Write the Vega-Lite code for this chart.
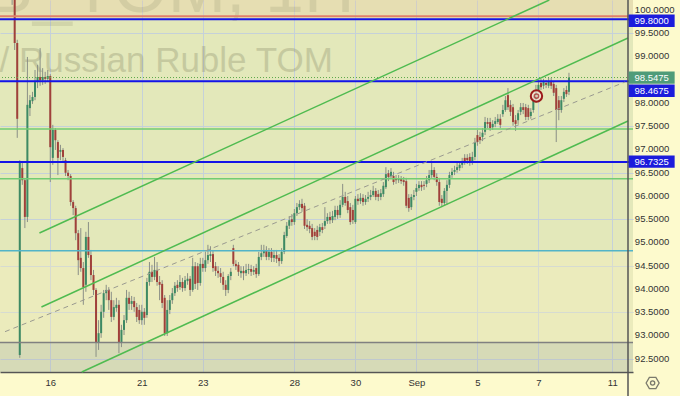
{
  "$schema": "https://vega.github.io/schema/vega-lite/v6.json",
  "width": 633,
  "height": 372,
  "autosize": "none",
  "padding": {"left": 0, "top": 0, "right": 47, "bottom": 24},
  "background": "#fdfacd",
  "config": {
    "view": {"fill": "#e3e8ba", "stroke": null},
    "axis": {"labelFont": "Liberation Sans Narrow, Liberation Sans, Arial", "labelFontSize": 9.5, "labelColor": "#333333"}
  },
  "datasets": {
    "candles": [
      {"t":0.583,"o":101.51,"h":101.72,"l":101.08,"c":101.29},
      {"t":0.667,"o":101.29,"h":101.51,"l":100.65,"c":100.86},
      {"t":0.75,"o":100.86,"h":100.97,"l":100.11,"c":100.32},
      {"t":0.833,"o":100.32,"h":100.39,"l":99.14,"c":99.29},
      {"t":0.917,"o":99.29,"h":99.36,"l":97.25,"c":97.66},
      {"t":1,"o":92.58,"h":96.77,"l":92.52,"c":96.71},
      {"t":1.083,"o":96.6,"h":96.73,"l":96.24,"c":96.34},
      {"t":1.167,"o":96.34,"h":96.39,"l":95.31,"c":95.55},
      {"t":1.25,"o":95.55,"h":98.99,"l":95.44,"c":97.96},
      {"t":1.333,"o":97.89,"h":98.17,"l":97.72,"c":98.06},
      {"t":1.417,"o":98.04,"h":98.24,"l":97.98,"c":98.13},
      {"t":1.5,"o":98.13,"h":98.71,"l":98.06,"c":98.45},
      {"t":1.583,"o":98.45,"h":98.82,"l":98.32,"c":98.56},
      {"t":1.667,"o":98.56,"h":99.18,"l":98.37,"c":98.49},
      {"t":1.75,"o":98.49,"h":98.75,"l":98.39,"c":98.56},
      {"t":1.833,"o":98.56,"h":98.67,"l":98.41,"c":98.52},
      {"t":1.917,"o":98.52,"h":98.71,"l":98.45,"c":98.58},
      {"t":2,"o":98.58,"h":98.62,"l":96.3,"c":97.05},
      {"t":2.083,"o":96.82,"h":97.53,"l":96.67,"c":97.42},
      {"t":2.167,"o":97.42,"h":97.46,"l":96.99,"c":97.2},
      {"t":2.25,"o":97.16,"h":97.2,"l":96.45,"c":96.82},
      {"t":2.333,"o":96.95,"h":97.1,"l":96.77,"c":96.99},
      {"t":2.417,"o":96.99,"h":97.03,"l":96.71,"c":96.84},
      {"t":2.5,"o":96.77,"h":96.82,"l":96.43,"c":96.5},
      {"t":2.583,"o":96.5,"h":96.56,"l":96.34,"c":96.43},
      {"t":2.667,"o":96.43,"h":96.47,"l":95.79,"c":95.87},
      {"t":2.75,"o":95.87,"h":95.91,"l":95.59,"c":95.74},
      {"t":2.833,"o":95.74,"h":95.79,"l":95.05,"c":95.2},
      {"t":2.917,"o":95.2,"h":95.27,"l":94.3,"c":94.62},
      {"t":3,"o":94.67,"h":95.31,"l":94.37,"c":94.45},
      {"t":3.083,"o":94.45,"h":94.58,"l":93.66,"c":94.04},
      {"t":3.167,"o":94.09,"h":95.23,"l":93.94,"c":95.12},
      {"t":3.25,"o":95.12,"h":95.44,"l":94.67,"c":94.73},
      {"t":3.333,"o":94.73,"h":94.84,"l":94.19,"c":94.3},
      {"t":3.417,"o":94.3,"h":94.41,"l":93.87,"c":93.98},
      {"t":3.5,"o":93.98,"h":94.02,"l":92.54,"c":92.84},
      {"t":3.583,"o":92.84,"h":93.33,"l":92.69,"c":93.05},
      {"t":3.667,"o":93.05,"h":93.66,"l":92.95,"c":93.51},
      {"t":3.75,"o":93.51,"h":93.98,"l":93.38,"c":93.91},
      {"t":3.833,"o":93.91,"h":94.09,"l":93.76,"c":93.98},
      {"t":3.917,"o":93.98,"h":94.04,"l":93.55,"c":93.76},
      {"t":4,"o":93.76,"h":93.94,"l":93.29,"c":93.4},
      {"t":4.083,"o":93.4,"h":93.76,"l":93.33,"c":93.61},
      {"t":4.167,"o":93.59,"h":93.81,"l":93.51,"c":93.66},
      {"t":4.25,"o":93.66,"h":93.76,"l":92.62,"c":92.84},
      {"t":4.333,"o":92.84,"h":93.23,"l":92.75,"c":93.12},
      {"t":4.417,"o":93.12,"h":93.44,"l":93.01,"c":93.33},
      {"t":4.5,"o":93.33,"h":93.98,"l":93.27,"c":93.81},
      {"t":4.583,"o":93.81,"h":93.94,"l":93.55,"c":93.68},
      {"t":4.667,"o":93.68,"h":93.85,"l":93.55,"c":93.74},
      {"t":4.75,"o":93.74,"h":93.83,"l":93.51,"c":93.61},
      {"t":4.833,"o":93.61,"h":93.7,"l":93.29,"c":93.4},
      {"t":4.917,"o":93.55,"h":93.66,"l":93.25,"c":93.33},
      {"t":5,"o":93.33,"h":93.66,"l":93.23,"c":93.51},
      {"t":5.083,"o":93.51,"h":93.59,"l":93.23,"c":93.38},
      {"t":5.167,"o":93.44,"h":94.24,"l":93.38,"c":94.15},
      {"t":5.25,"o":94.15,"h":94.58,"l":94.07,"c":94.37},
      {"t":5.333,"o":94.37,"h":94.52,"l":94.15,"c":94.26},
      {"t":5.417,"o":94.26,"h":94.69,"l":94.19,"c":94.41},
      {"t":5.5,"o":94.41,"h":94.58,"l":94.07,"c":94.15},
      {"t":5.583,"o":94.15,"h":94.28,"l":93.76,"c":94.09},
      {"t":5.667,"o":94.11,"h":94.19,"l":93.59,"c":93.7},
      {"t":5.75,"o":93.81,"h":93.87,"l":92.99,"c":93.05},
      {"t":5.833,"o":93.05,"h":93.76,"l":92.99,"c":93.55},
      {"t":5.917,"o":93.55,"h":93.87,"l":93.46,"c":93.76},
      {"t":6,"o":93.76,"h":94.02,"l":93.68,"c":93.91},
      {"t":6.083,"o":93.91,"h":94.15,"l":93.85,"c":94.07},
      {"t":6.167,"o":94.09,"h":94.19,"l":93.94,"c":94.02},
      {"t":6.25,"o":94.04,"h":94.3,"l":93.98,"c":94.15},
      {"t":6.333,"o":94.15,"h":94.24,"l":93.94,"c":94.02},
      {"t":6.417,"o":94.02,"h":94.28,"l":93.96,"c":94.19},
      {"t":6.5,"o":94.17,"h":94.34,"l":94.09,"c":94.22},
      {"t":6.583,"o":94.22,"h":94.28,"l":93.85,"c":93.98},
      {"t":6.667,"o":93.98,"h":94.67,"l":93.94,"c":94.49},
      {"t":6.75,"o":94.49,"h":94.58,"l":94.0,"c":94.11},
      {"t":6.833,"o":94.49,"h":94.56,"l":93.98,"c":94.13},
      {"t":6.917,"o":94.13,"h":94.67,"l":94.07,"c":94.54},
      {"t":7,"o":94.54,"h":94.67,"l":94.37,"c":94.45},
      {"t":7.083,"o":94.45,"h":94.8,"l":94.37,"c":94.62},
      {"t":7.167,"o":94.62,"h":94.95,"l":94.54,"c":94.73},
      {"t":7.25,"o":94.71,"h":94.92,"l":94.58,"c":94.75},
      {"t":7.333,"o":94.75,"h":94.84,"l":94.37,"c":94.45},
      {"t":7.417,"o":94.49,"h":94.58,"l":94.28,"c":94.39},
      {"t":7.5,"o":94.39,"h":94.49,"l":94.24,"c":94.34},
      {"t":7.583,"o":94.34,"h":94.45,"l":94.13,"c":94.26},
      {"t":7.667,"o":94.26,"h":94.37,"l":93.98,"c":94.09},
      {"t":7.75,"o":94.09,"h":94.19,"l":93.85,"c":93.98},
      {"t":7.833,"o":93.98,"h":94.32,"l":93.91,"c":94.28},
      {"t":7.917,"o":94.28,"h":94.45,"l":94.19,"c":94.37},
      {"t":8,"o":94.88,"h":94.95,"l":94.49,"c":94.54},
      {"t":8.083,"o":94.54,"h":94.62,"l":94.41,"c":94.49},
      {"t":8.167,"o":94.52,"h":94.58,"l":94.28,"c":94.37},
      {"t":8.25,"o":94.34,"h":94.49,"l":94.24,"c":94.39},
      {"t":8.333,"o":94.39,"h":94.49,"l":94.19,"c":94.34},
      {"t":8.417,"o":94.34,"h":94.54,"l":94.28,"c":94.41},
      {"t":8.5,"o":94.41,"h":94.54,"l":94.32,"c":94.43},
      {"t":8.583,"o":94.43,"h":94.52,"l":94.28,"c":94.37},
      {"t":8.667,"o":94.37,"h":94.49,"l":94.3,"c":94.41},
      {"t":8.75,"o":94.45,"h":94.54,"l":94.24,"c":94.32},
      {"t":8.833,"o":94.32,"h":94.8,"l":94.28,"c":94.69},
      {"t":8.917,"o":94.69,"h":94.95,"l":94.62,"c":94.77},
      {"t":9,"o":94.77,"h":94.95,"l":94.69,"c":94.84},
      {"t":9.083,"o":94.84,"h":94.92,"l":94.62,"c":94.69},
      {"t":9.167,"o":94.69,"h":94.88,"l":94.62,"c":94.8},
      {"t":9.25,"o":94.8,"h":94.88,"l":94.58,"c":94.67},
      {"t":9.333,"o":94.67,"h":94.84,"l":94.58,"c":94.73},
      {"t":9.417,"o":94.73,"h":94.84,"l":94.56,"c":94.65},
      {"t":9.5,"o":94.67,"h":94.75,"l":94.49,"c":94.6},
      {"t":9.583,"o":94.6,"h":94.88,"l":94.54,"c":94.8},
      {"t":9.667,"o":94.8,"h":95.23,"l":94.75,"c":95.16},
      {"t":9.75,"o":95.14,"h":95.44,"l":95.1,"c":95.36},
      {"t":9.833,"o":95.36,"h":95.57,"l":95.29,"c":95.48},
      {"t":9.917,"o":95.5,"h":95.61,"l":95.36,"c":95.44},
      {"t":10,"o":95.44,"h":95.72,"l":95.38,"c":95.63},
      {"t":10.083,"o":95.63,"h":95.85,"l":95.57,"c":95.76},
      {"t":10.167,"o":95.76,"h":95.91,"l":95.7,"c":95.83},
      {"t":10.25,"o":95.83,"h":95.94,"l":95.66,"c":95.74},
      {"t":10.333,"o":95.79,"h":95.85,"l":95.29,"c":95.36},
      {"t":10.417,"o":95.38,"h":95.5,"l":95.25,"c":95.33},
      {"t":10.5,"o":95.36,"h":95.46,"l":95.2,"c":95.29},
      {"t":10.583,"o":95.31,"h":95.4,"l":95.05,"c":95.12},
      {"t":10.667,"o":95.23,"h":95.31,"l":95.05,"c":95.14},
      {"t":10.75,"o":95.27,"h":95.36,"l":95.05,"c":95.12},
      {"t":10.833,"o":95.23,"h":95.4,"l":95.14,"c":95.33},
      {"t":10.917,"o":95.33,"h":95.42,"l":95.2,"c":95.27},
      {"t":11,"o":95.36,"h":95.76,"l":95.29,"c":95.46},
      {"t":11.083,"o":95.46,"h":95.63,"l":95.4,"c":95.55},
      {"t":11.167,"o":95.55,"h":95.66,"l":95.4,"c":95.48},
      {"t":11.25,"o":95.48,"h":95.68,"l":95.42,"c":95.57},
      {"t":11.333,"o":95.55,"h":95.79,"l":95.48,"c":95.7},
      {"t":11.417,"o":95.7,"h":95.79,"l":95.51,"c":95.59},
      {"t":11.5,"o":95.59,"h":95.91,"l":95.53,"c":95.81},
      {"t":11.583,"o":95.81,"h":96.26,"l":95.76,"c":95.98},
      {"t":11.667,"o":95.98,"h":96.09,"l":95.79,"c":95.85},
      {"t":11.75,"o":95.89,"h":96.0,"l":95.63,"c":95.7},
      {"t":11.833,"o":95.76,"h":95.85,"l":95.38,"c":95.44},
      {"t":11.917,"o":95.7,"h":95.81,"l":95.4,"c":95.48},
      {"t":12,"o":95.44,"h":96.0,"l":95.4,"c":95.94},
      {"t":12.083,"o":95.94,"h":96.04,"l":95.81,"c":95.89},
      {"t":12.167,"o":95.89,"h":96.06,"l":95.83,"c":95.96},
      {"t":12.25,"o":95.96,"h":96.04,"l":95.79,"c":95.87},
      {"t":12.333,"o":95.87,"h":96.02,"l":95.81,"c":95.94},
      {"t":12.417,"o":95.94,"h":96.09,"l":95.87,"c":95.98},
      {"t":12.5,"o":95.98,"h":96.13,"l":95.91,"c":96.02},
      {"t":12.583,"o":96.02,"h":96.22,"l":95.98,"c":96.11},
      {"t":12.667,"o":96.11,"h":96.17,"l":95.91,"c":95.98},
      {"t":12.75,"o":96.04,"h":96.13,"l":95.89,"c":95.98},
      {"t":12.833,"o":95.98,"h":96.15,"l":95.91,"c":96.06},
      {"t":12.917,"o":96.04,"h":96.3,"l":95.98,"c":96.22},
      {"t":13,"o":96.19,"h":96.62,"l":96.15,"c":96.47},
      {"t":13.083,"o":96.49,"h":96.56,"l":96.32,"c":96.41},
      {"t":13.167,"o":96.43,"h":96.6,"l":96.37,"c":96.52},
      {"t":13.25,"o":96.43,"h":96.52,"l":96.24,"c":96.3},
      {"t":13.333,"o":96.37,"h":96.45,"l":96.26,"c":96.34},
      {"t":13.417,"o":96.34,"h":96.45,"l":96.28,"c":96.37},
      {"t":13.5,"o":96.37,"h":96.43,"l":96.26,"c":96.32},
      {"t":13.583,"o":96.34,"h":96.41,"l":96.22,"c":96.3},
      {"t":13.667,"o":96.32,"h":96.39,"l":95.74,"c":95.79},
      {"t":13.75,"o":95.96,"h":96.04,"l":95.66,"c":95.74},
      {"t":13.833,"o":95.76,"h":96.04,"l":95.7,"c":95.98},
      {"t":13.917,"o":95.98,"h":96.13,"l":95.91,"c":96.02},
      {"t":14,"o":96.09,"h":96.26,"l":96.0,"c":96.17},
      {"t":14.083,"o":96.17,"h":96.32,"l":96.11,"c":96.24},
      {"t":14.167,"o":96.24,"h":96.32,"l":96.11,"c":96.19},
      {"t":14.25,"o":96.24,"h":96.32,"l":96.13,"c":96.22},
      {"t":14.333,"o":96.26,"h":96.43,"l":96.19,"c":96.34},
      {"t":14.417,"o":96.34,"h":96.56,"l":96.28,"c":96.45},
      {"t":14.5,"o":96.45,"h":96.71,"l":96.39,"c":96.56},
      {"t":14.583,"o":96.56,"h":96.62,"l":96.34,"c":96.41},
      {"t":14.667,"o":96.41,"h":96.49,"l":96.22,"c":96.3},
      {"t":14.75,"o":96.3,"h":96.39,"l":95.79,"c":95.87},
      {"t":14.833,"o":95.94,"h":96.02,"l":95.76,"c":95.85},
      {"t":14.917,"o":95.85,"h":96.17,"l":95.79,"c":96.11},
      {"t":15,"o":96.11,"h":96.34,"l":95.81,"c":96.24},
      {"t":15.083,"o":96.24,"h":96.52,"l":96.17,"c":96.45},
      {"t":15.167,"o":96.45,"h":96.6,"l":96.39,"c":96.52},
      {"t":15.25,"o":96.52,"h":96.65,"l":96.45,"c":96.56},
      {"t":15.333,"o":96.56,"h":96.71,"l":96.5,"c":96.62},
      {"t":15.417,"o":96.6,"h":96.75,"l":96.54,"c":96.67},
      {"t":15.5,"o":96.67,"h":96.82,"l":96.6,"c":96.73},
      {"t":15.583,"o":96.82,"h":96.9,"l":96.67,"c":96.75},
      {"t":15.667,"o":96.82,"h":96.9,"l":96.69,"c":96.77},
      {"t":15.75,"o":96.84,"h":96.92,"l":96.65,"c":96.73},
      {"t":15.833,"o":96.73,"h":96.95,"l":96.67,"c":96.84},
      {"t":15.917,"o":96.84,"h":97.25,"l":96.77,"c":97.16},
      {"t":16,"o":97.31,"h":97.42,"l":97.08,"c":97.16},
      {"t":16.083,"o":97.27,"h":97.38,"l":97.12,"c":97.2},
      {"t":16.167,"o":97.27,"h":97.46,"l":97.18,"c":97.36},
      {"t":16.25,"o":97.38,"h":97.7,"l":97.31,"c":97.59},
      {"t":16.333,"o":97.59,"h":97.68,"l":97.46,"c":97.55},
      {"t":16.417,"o":97.59,"h":97.68,"l":97.4,"c":97.46},
      {"t":16.5,"o":97.48,"h":97.63,"l":97.42,"c":97.55},
      {"t":16.583,"o":97.55,"h":97.7,"l":97.48,"c":97.61},
      {"t":16.667,"o":97.59,"h":97.76,"l":97.55,"c":97.66},
      {"t":16.75,"o":97.66,"h":97.76,"l":97.46,"c":97.53},
      {"t":16.833,"o":97.76,"h":97.96,"l":97.7,"c":97.85},
      {"t":16.917,"o":97.85,"h":98.15,"l":97.81,"c":98.06},
      {"t":17,"o":98.17,"h":98.32,"l":97.85,"c":97.91},
      {"t":17.083,"o":97.96,"h":98.06,"l":97.72,"c":97.81},
      {"t":17.167,"o":97.91,"h":97.98,"l":97.51,"c":97.59},
      {"t":17.25,"o":97.63,"h":97.74,"l":97.4,"c":97.55},
      {"t":17.333,"o":97.63,"h":97.85,"l":97.55,"c":97.78},
      {"t":17.417,"o":97.81,"h":98.0,"l":97.74,"c":97.91},
      {"t":17.5,"o":97.91,"h":98.0,"l":97.76,"c":97.85},
      {"t":17.583,"o":97.91,"h":97.98,"l":97.63,"c":97.7},
      {"t":17.667,"o":97.89,"h":97.96,"l":97.63,"c":97.7},
      {"t":17.75,"o":97.72,"h":97.89,"l":97.66,"c":97.81},
      {"t":17.833,"o":97.85,"h":98.15,"l":97.79,"c":98.06},
      {"t":17.917,"o":98.06,"h":98.39,"l":98.0,"c":98.28},
      {"t":18,"o":98.28,"h":98.49,"l":98.22,"c":98.39},
      {"t":18.083,"o":98.43,"h":98.52,"l":98.28,"c":98.34},
      {"t":18.167,"o":98.37,"h":98.52,"l":98.3,"c":98.45},
      {"t":18.25,"o":98.43,"h":98.49,"l":98.32,"c":98.39},
      {"t":18.333,"o":98.37,"h":98.54,"l":98.32,"c":98.47},
      {"t":18.417,"o":98.47,"h":98.54,"l":98.3,"c":98.37},
      {"t":18.5,"o":98.41,"h":98.47,"l":98.15,"c":98.22},
      {"t":18.583,"o":98.32,"h":98.39,"l":97.16,"c":97.85},
      {"t":18.667,"o":98.06,"h":98.15,"l":97.63,"c":97.85},
      {"t":18.75,"o":97.85,"h":98.15,"l":97.79,"c":98.06},
      {"t":18.833,"o":98.09,"h":98.32,"l":98.02,"c":98.24},
      {"t":18.917,"o":98.28,"h":98.37,"l":98.13,"c":98.19},
      {"t":19,"o":98.24,"h":98.65,"l":98.17,"c":98.5475}
    ],
    "channels": [
      {"line":"upper","t":1.645,"v":95.204},{"line":"upper","t":18.355,"v":100.215},
      {"line":"middle","t":1.71,"v":93.613},{"line":"middle","t":20.935,"v":99.398},
      {"line":"lower","t":3.032,"v":92.215},{"line":"lower","t":20.935,"v":97.613}
    ],
    "median": [{"t":0.516,"v":93.082},{"t":20.839,"v":98.452}],
    "ylabels": [
      {"v":100},{"v":99.5},{"v":99},{"v":98},{"v":97.5},{"v":97},{"v":96.5},{"v":96},
      {"v":95.5},{"v":95},{"v":94.5},{"v":94},{"v":93.5},{"v":93},{"v":92.5}
    ],
    "tags": [
      {"label":"99.8000","pos":99.77,"kind":"level"},
      {"label":"98.5475","pos":98.545,"kind":"last"},
      {"label":"98.4675","pos":98.262,"kind":"level"},
      {"label":"96.7325","pos":96.74,"kind":"level"}
    ]
  },
  "layer": [
    {
      "data": {"name": "candles"},
      "mark": {"type": "rule", "color": "#8a8f86", "strokeWidth": 1, "opacity": 0},
      "encoding": {
        "x": {"field": "t", "type": "quantitative", "scale": {"domain": [0.516, 20.935], "nice": false, "zero": false},
          "axis": {"orient": "bottom", "values": [2, 5, 7, 10, 12, 14, 16, 18, 20.42],
            "labelExpr": "['16','21','23','28','30','Sep','5','7','11'][indexof([2,5,7,10,12,14,16,18,20.42], datum.value)]",
            "grid": true, "gridColor": "#c5d1d9", "gridWidth": 1, "domain": true, "domainColor": "#555555", "domainWidth": 1.5,
            "ticks": false, "labelPadding": 5, "labelFlush": false, "labelOverlap": false, "title": null}},
        "y": {"field": "l", "type": "quantitative", "scale": {"domain": [92.215, 100.215], "nice": false, "zero": false},
          "axis": {"orient": "right", "values": [92.5, 93, 93.5, 94, 94.5, 95, 95.5, 96, 96.5, 97, 97.5, 98, 98.5, 99, 99.5, 100],
            "grid": true, "gridColor": "#c5d1d9", "gridWidth": 1, "domain": false, "ticks": false, "labels": false, "title": null}},
        "y2": {"field": "h"}
      }
    },
    {
      "data": {"values": [{"lo": 99.865, "hi": 100.215}]},
      "mark": {"type": "rect", "fill": "#f0c8a0", "opacity": 0.3},
      "encoding": {
        "y": {"field": "lo", "type": "quantitative"},
        "y2": {"field": "hi"}
      }
    },
    {
      "data": {"values": [{"lo": 92.85, "hi": 94.82}]},
      "mark": {"type": "rect", "fill": "#fff3c0", "opacity": 0.3},
      "encoding": {
        "y": {"field": "lo", "type": "quantitative"},
        "y2": {"field": "hi"}
      }
    },
    {
      "data": {"values": [{"lo": 92.215, "hi": 92.85}]},
      "mark": {"type": "rect", "fill": "#b0b0b0", "opacity": 0.25},
      "encoding": {
        "y": {"field": "lo", "type": "quantitative"},
        "y2": {"field": "hi"}
      }
    },
    {
      "data": {"values": [{"label": "/ Russian Ruble TOM", "t": 11.26, "v": 98.667}]},
      "mark": {"type": "text", "align": "right", "baseline": "alphabetic", "font": "Liberation Sans", "fontSize": 35, "fill": "#6f6f50", "opacity": 0.25},
      "encoding": {
        "x": {"field": "t", "type": "quantitative"},
        "y": {"field": "v", "type": "quantitative"},
        "text": {"field": "label"}
      }
    },
    {
      "data": {"values": [{"label": "USDRUB_TOM, 1H", "t": 11.97, "v": 99.95}]},
      "mark": {"type": "text", "align": "right", "baseline": "alphabetic", "font": "Liberation Sans", "fontSize": 70, "fill": "#6f6f50", "opacity": 0.15},
      "encoding": {
        "x": {"field": "t", "type": "quantitative"},
        "y": {"field": "v", "type": "quantitative"},
        "text": {"field": "label"}
      }
    },
    {
      "data": {"name": "candles"},
      "mark": {"type": "rule", "color": "#8a8f86", "strokeWidth": 1},
      "encoding": {
        "x": {"field": "t", "type": "quantitative"},
        "y": {"field": "l", "type": "quantitative"},
        "y2": {"field": "h"}
      }
    },
    {
      "data": {"name": "candles"},
      "mark": {"type": "bar", "size": 2},
      "encoding": {
        "x": {"field": "t", "type": "quantitative"},
        "y": {"field": "o", "type": "quantitative"},
        "y2": {"field": "c"},
        "color": {"condition": {"test": "datum.c >= datum.o", "value": "#3d8a64"}, "value": "#a0403a"}
      }
    },
    {
      "data": {"values": [{"v": 99.865}]},
      "mark": {"type": "rule", "color": "#e0806a", "strokeWidth": 2},
      "encoding": {"y": {"field": "v", "type": "quantitative"}}
    },
    {
      "data": {"values": [{"v": 97.44}, {"v": 96.37}]},
      "mark": {"type": "rule", "color": "#72cc72", "strokeWidth": 1.5},
      "encoding": {"y": {"field": "v", "type": "quantitative"}}
    },
    {
      "data": {"values": [{"v": 94.82}]},
      "mark": {"type": "rule", "color": "#52b4c8", "strokeWidth": 1.5},
      "encoding": {"y": {"field": "v", "type": "quantitative"}}
    },
    {
      "data": {"values": [{"v": 92.85}]},
      "mark": {"type": "rule", "color": "#808080", "strokeWidth": 1.5},
      "encoding": {"y": {"field": "v", "type": "quantitative"}}
    },
    {
      "data": {"values": [{"v": 98.5475}]},
      "mark": {"type": "rule", "color": "#5aa84a", "strokeWidth": 1, "strokeDash": [1, 2]},
      "encoding": {"y": {"field": "v", "type": "quantitative"}}
    },
    {
      "data": {"values": [{"v": 99.8}, {"v": 98.4675}, {"v": 96.7325}]},
      "mark": {"type": "rule", "color": "#1414e6", "strokeWidth": 2},
      "encoding": {"y": {"field": "v", "type": "quantitative"}}
    },
    {
      "data": {"name": "channels"},
      "mark": {"type": "line", "color": "#4fbb50", "strokeWidth": 1.5},
      "encoding": {
        "x": {"field": "t", "type": "quantitative"},
        "y": {"field": "v", "type": "quantitative"},
        "detail": {"field": "line"}
      }
    },
    {
      "data": {"name": "median"},
      "mark": {"type": "line", "color": "#9a9a90", "strokeWidth": 1, "strokeDash": [5, 4]},
      "encoding": {
        "x": {"field": "t", "type": "quantitative"},
        "y": {"field": "v", "type": "quantitative"}
      }
    },
    {
      "data": {"values": [{"t": 17.935, "v": 98.15}]},
      "mark": {"type": "point", "shape": "circle", "filled": true, "fill": "#f2e2d2", "fillOpacity": 0.8, "stroke": "#9b1b1b", "strokeWidth": 2, "size": 130},
      "encoding": {
        "x": {"field": "t", "type": "quantitative"},
        "y": {"field": "v", "type": "quantitative"}
      }
    },
    {
      "data": {"values": [{"t": 17.935, "v": 98.15}]},
      "mark": {"type": "point", "shape": "circle", "filled": false, "stroke": "#9b1b1b", "strokeWidth": 1.5, "size": 18},
      "encoding": {
        "x": {"field": "t", "type": "quantitative"},
        "y": {"field": "v", "type": "quantitative"}
      }
    },
    {
      "data": {"values": [{"t": 20.935, "top": 100.215, "bottom": 91.699}]},
      "mark": {"type": "rule", "color": "#555555", "strokeWidth": 1.5},
      "encoding": {
        "x": {"field": "t", "type": "quantitative"},
        "y": {"field": "top", "type": "quantitative"},
        "y2": {"field": "bottom"}
      }
    },
    {
      "data": {"name": "ylabels"},
      "mark": {"type": "text", "align": "left", "baseline": "middle", "color": "#333333", "font": "Liberation Sans Narrow, Liberation Sans, Arial", "fontSize": 9.5},
      "encoding": {
        "x": {"datum": 21.16, "type": "quantitative"},
        "y": {"field": "v", "type": "quantitative"},
        "text": {"field": "v", "type": "quantitative", "format": ".4f"}
      }
    },
    {
      "data": {"name": "tags"},
      "mark": {"type": "point", "shape": "M-1,-0.27L1,-0.27L1,0.27L-1,0.27Z", "filled": true, "opacity": 1, "size": 2116},
      "encoding": {
        "x": {"datum": 21.71, "type": "quantitative"},
        "y": {"field": "pos", "type": "quantitative"},
        "color": {"field": "kind", "type": "nominal", "scale": {"domain": ["level", "last"], "range": ["#1c1cdc", "#4f9c79"]}, "legend": null}
      }
    },
    {
      "data": {"name": "tags"},
      "mark": {"type": "text", "align": "center", "baseline": "middle", "color": "#ffffff", "font": "Liberation Sans Narrow, Liberation Sans, Arial", "fontSize": 9.5},
      "encoding": {
        "x": {"datum": 21.71, "type": "quantitative"},
        "y": {"field": "pos", "type": "quantitative"},
        "text": {"field": "label"}
      }
    },
    {
      "data": {"values": [{"t": 21.742, "v": 91.978}]},
      "mark": {"type": "point", "shape": "M-1,0L-0.5,-0.866L0.5,-0.866L1,0L0.5,0.866L-0.5,0.866Z", "filled": false, "stroke": "#444444", "strokeWidth": 1.3, "size": 169},
      "encoding": {
        "x": {"field": "t", "type": "quantitative"},
        "y": {"field": "v", "type": "quantitative"}
      }
    },
    {
      "data": {"values": [{"t": 21.742, "v": 91.978}]},
      "mark": {"type": "point", "shape": "circle", "filled": false, "stroke": "#444444", "strokeWidth": 1.3, "size": 18},
      "encoding": {
        "x": {"field": "t", "type": "quantitative"},
        "y": {"field": "v", "type": "quantitative"}
      }
    }
  ]
}
